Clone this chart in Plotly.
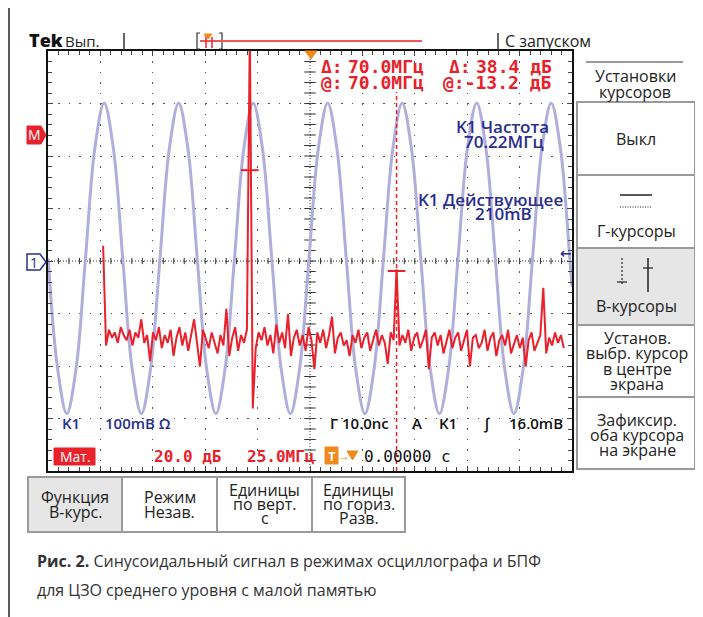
import plotly.graph_objects as go

# ---------------- data ----------------
# CH1 sine wave (time in ns, amplitude in mV) – sampled at 1/8 period
sine_time_ns = [-49.96, -48.18, -46.41, -44.63, -42.85, -41.07, -39.29, -37.52,
                -35.74, -33.96, -32.18, -30.41, -28.63, -26.85, -25.07, -23.30,
                -21.52, -19.74, -17.96, -16.19, -14.41, -12.63, -10.85, -9.07,
                -7.30, -5.52, -3.74, -1.97, -0.19, 1.59, 3.37, 5.14,
                6.92, 8.70, 10.48, 12.25, 14.03, 15.81, 17.59, 19.36,
                21.14, 22.92, 24.70, 26.47, 28.25, 30.03, 31.81, 33.58,
                35.36, 37.14, 38.92, 40.69, 42.47, 44.25, 46.03, 47.80,
                49.58, 50.0]
sine_mv = [5, -204, -291, -204, 5, 214, 301, 214,
           5, -204, -291, -204, 5, 214, 301, 214,
           5, -204, -291, -204, 5, 214, 301, 214,
           5, -204, -291, -204, 5, 214, 301, 214,
           5, -204, -291, -204, 5, 214, 301, 214,
           5, -204, -291, -204, 5, 214, 301, 214,
           5, -204, -291, -204, 5, 214, 301, 214,
           5, -49]

# FFT (math) trace, dB, one value every 1.4 MHz starting at 0 MHz
fft_start_mhz = 0.0
fft_step_mhz = 1.4
fft_db = [-42, -80, -74, -77, -75, -79, -73, -76, -78, -74,
          -80, -75, -77, -70, -79, -76, -86, -75, -78, -73,
          -81, -76, -79, -74, -84, -77, -73, -80, -75, -82,
          -76, -70, -79, -88, -74, -78, -81, -75, -79, -83,
          -76, -80, -66, -84, -77, -73, -82, -76, -79, -74,
          40, -104, -81, -75, -78, -73, -80, -76, -83, -72,
          -79, -75, -81, -68, -84, -77, -74, -80, -76, -82,
          -73, -78, -89, -75, -79, -74, -81, -76, -69, -83,
          -77, -75, -80, -78, -84, -76, -79, -74, -81, -77,
          -75, -82, -78, -74, -80, -76, -79, -87, -75, -78,
          -51, -80, -76, -79, -74, -82, -77, -75, -81, -78,
          -74, -89, -77, -75, -80, -76, -83, -79, -74, -81,
          -77, -75, -82, -78, -74, -88, -77, -76, -81, -79,
          -74, -82, -77, -75, -84, -78, -76, -80, -74, -83,
          -79, -76, -81, -77, -88, -78, -75, -82, -79, -76,
          -58, -83, -77, -80, -75, -79, -76, -81]
fft_freq_mhz = [round(fft_start_mhz + i * fft_step_mhz, 2) for i in range(len(fft_db))]

cursor1_mhz, cursor2_mhz = 70.0, 140.0
cursor1_db, cursor2_db = -13.2, -51.6
ref_level_db = 0.0
trigger_level_mv = 16.0

readout_delta = ["Δ:", "70.0МГц", "Δ:", "38.4 дБ"]
readout_at = ["@:", "70.0МГц", "@:-13.2 дБ"]
menu_title = ["Установки", "курсоров"]
menu_items = [["Выкл"], ["Г-курсоры"], ["В-курсоры"],
              ["Установ.", "выбр. курсор", "в центре", "экрана"],
              ["Зафиксир.", "оба курсора", "на экране"]]
bottom_buttons = [["Функция", "В-курс."], ["Режим", "Незав."],
                  ["Единицы", "по верт.", "с"], ["Единицы", "по гориз.", "Разв."]]
caption_bold = "Рис. 2."
caption_line1 = " Синусоидальный сигнал в режимах осциллографа и БПФ"
caption_line2 = "для ЦЗО среднего уровня с малой памятью"

# ---------------- styling / layout helpers ----------------
OFF = 8                      # page body margin of the html page
W, H = 703 - OFF, 617 - OFF  # figure size
L, R, T, B = 48, 572, 51, 471  # plot area in page pixels
RED = "#e8212b"
NAVY = "#2b2e8c"
LAV = "#b0aedb"
ORANGE = "#f08a1d"
UI = "Open Sans"
MONO = "DejaVu Sans Mono"


def fx(px):
    return (px - L) / (R - L)


def fy(py):
    return (B - py) / (B - T)


ann = []
shapes = []


def txt(x, y, s, size=15, color="#222", family=UI, anchor="center", weight=None):
    f = dict(size=size, color=color, family=family)
    if weight:
        f["weight"] = weight
    ann.append(dict(x=fx(x), y=fy(y), xref="paper", yref="paper", text=s,
                    showarrow=False, xanchor=anchor, yanchor="middle", font=f))


def pline(x0, y0, x1, y1, color="#333", width=1.5, dash=None):
    d = dict(type="line", xref="paper", yref="paper", x0=fx(x0), y0=fy(y0),
             x1=fx(x1), y1=fy(y1), line=dict(color=color, width=width))
    if dash:
        d["line"]["dash"] = dash
    shapes.append(d)


def prect(x0, y0, x1, y1, line="#9a9a9a", fill=None, width=2):
    shapes.append(dict(type="rect", xref="paper", yref="paper", x0=fx(x0), y0=fy(y1),
                       x1=fx(x1), y1=fy(y0), line=dict(color=line, width=width),
                       fillcolor=fill if fill else "rgba(0,0,0,0)", layer="below" if fill else "above"))


def ppath(pts, fill=None, line=None, width=1.5, closed=True):
    p = "M " + " L ".join(f"{fx(a):.5f},{fy(b):.5f}" for a, b in pts) + (" Z" if closed else "")
    shapes.append(dict(type="path", xref="paper", yref="paper", path=p,
                       fillcolor=fill if fill else "rgba(0,0,0,0)",
                       line=dict(color=line if line else (fill or "#000"), width=width)))


# ---------------- figure ----------------
fig = go.Figure()
fig.add_trace(go.Scatter(x=sine_time_ns, y=sine_mv, mode="lines", hoverinfo="skip",
                         line=dict(color=LAV, width=3, shape="spline", smoothing=1.0)))
fig.add_trace(go.Scatter(x=fft_freq_mhz, y=fft_db, xaxis="x2", yaxis="y2", mode="lines",
                         hoverinfo="skip", line=dict(color=RED, width=2)))

axis_common = dict(showticklabels=False, zeroline=False, showline=True, linecolor="#111",
                   linewidth=2, mirror="ticks", ticks="inside", ticklen=5, tickcolor="#444",
                   showgrid=True, gridcolor="#555", gridwidth=1, griddash="1.5px,8.98px")
fig.update_layout(
    width=W, height=H, margin=dict(l=L - OFF, r=W - (R - OFF), t=T - OFF, b=H - (B - OFF)),
    paper_bgcolor="white", plot_bgcolor="white", showlegend=False,
    xaxis=dict(range=[-50, 50], dtick=10, tick0=0,
               minor=dict(dtick=2, ticks="inside", ticklen=4, tickcolor="#444", showgrid=False),
               **axis_common),
    yaxis=dict(range=[-400, 400], dtick=100, tick0=0,
               minor=dict(dtick=20, ticks="inside", ticklen=4, tickcolor="#444", showgrid=False),
               **axis_common),
    xaxis2=dict(range=[-26.3, 223.7], overlaying="x", visible=False),
    yaxis2=dict(range=[-127.8, 32.2], overlaying="y", visible=False),
)

# centre crosshair (denser dots + ticks)
shapes.append(dict(type="line", xref="x", yref="y", x0=-50, x1=50, y0=0, y1=0,
                   line=dict(color="#333", width=1, dash="1px,2px"), layer="below"))
shapes.append(dict(type="line", xref="x", yref="y", x0=0, x1=0, y0=-400, y1=400,
                   line=dict(color="#333", width=1, dash="1px,2px"), layer="below"))
for t in range(-48, 50, 2):
    shapes.append(dict(type="line", xref="x", yref="y", x0=t, x1=t, y0=-6, y1=6,
                       line=dict(color="#333", width=1), layer="below"))
for v in range(-380, 400, 20):
    shapes.append(dict(type="line", xref="x", yref="y", x0=-1.1, x1=1.1, y0=v, y1=v,
                       line=dict(color="#333", width=1), layer="below"))

# cursors
shapes.append(dict(type="line", xref="x2", yref="y2", x0=cursor1_mhz - 4.2, x1=cursor1_mhz + 4.2,
                   y0=cursor1_db, y1=cursor1_db, line=dict(color=RED, width=2)))
shapes.append(dict(type="line", xref="x2", yref="paper", x0=cursor2_mhz, x1=cursor2_mhz,
                   y0=0, y1=fy(92), line=dict(color=RED, width=1.5, dash="4px,3px")))
shapes.append(dict(type="line", xref="x2", yref="y2", x0=cursor2_mhz - 4.2, x1=cursor2_mhz + 4.2,
                   y0=cursor2_db, y1=cursor2_db, line=dict(color=RED, width=2)))

# trigger position marker on top
ppath([(305, 51), (317, 51), (311, 59)], fill=ORANGE, width=1)
# trigger level arrow on right edge
ann.append(dict(x=fx(566), y=trigger_level_mv, xref="paper", yref="y", text="←",
                showarrow=False, xanchor="center", yanchor="middle",
                font=dict(size=14, color=NAVY, family="DejaVu Sans", weight=700)))

# left markers
ppath([(27, 126), (41, 126), (46, 135), (41, 144), (27, 144)], fill=RED, width=1)
txt(34, 135, "M", size=14, color="white", weight=400)
ppath([(27, 254), (40, 254), (46, 262), (40, 270), (27, 270)], fill="white", line=NAVY, width=1.5)
txt(34, 262, "1", size=14, color=NAVY, weight=400)

# page left rule
pline(9, OFF, 9, 617, color="#222", width=1.5)

# top bar
txt(27, 40, "Tek", size=18, color="#111", anchor="left", weight=800)
txt(63, 41, "Вып.", size=15, color="#222", anchor="left")
pline(124, 33, 124, 50, color="#333", width=1.5)
ppath([(200, 33), (197, 33), (197, 49), (200, 49)], line="#333", width=1.2, closed=False)
ppath([(219, 33), (222, 33), (222, 49), (219, 49)], line="#333", width=1.2, closed=False)
pline(200, 41, 422, 41, color="#f0575c", width=2)
pline(206, 35, 206, 48, color=RED, width=1.5)
pline(212, 37, 212, 48, color=RED, width=1.5)
ppath([(204, 34), (212, 34), (208, 39)], fill=ORANGE, width=1)
pline(498, 33, 498, 50, color="#333", width=1.5)
txt(503, 41, "С запуском", size=16, color="#222", anchor="left")

# red readouts
txt(319, 67, readout_delta[0], size=18, color=RED, family=MONO, anchor="left", weight=700)
txt(426, 67, readout_delta[1], size=18, color=RED, family=MONO, anchor="right", weight=700)
txt(447, 67, readout_delta[2], size=18, color=RED, family=MONO, anchor="left", weight=700)
txt(554, 67, readout_delta[3], size=18, color=RED, family=MONO, anchor="right", weight=700)
txt(319, 83, readout_at[0], size=18, color=RED, family=MONO, anchor="left", weight=700)
txt(426, 83, readout_at[1], size=18, color=RED, family=MONO, anchor="right", weight=700)
txt(554, 83, readout_at[2], size=18, color=RED, family=MONO, anchor="right", weight=700)

# blue measurement texts
txt(502, 126, "K1 Частота", size=17, color=NAVY, weight=600)
txt(504, 141, "70.22МГц", size=17, color=NAVY, weight=600)
txt(490, 199, "K1 Действующее", size=17, color=NAVY, weight=600)
txt(503, 214, "210mВ", size=17, color=NAVY, weight=600)

# status line 1
txt(60, 423, "K1", size=15, color=NAVY, anchor="left", weight=600)
txt(103, 423, "100mВ Ω", size=15, color=NAVY, anchor="left", weight=600)
txt(328, 423, "Г 10.0nс", size=15, color="#111", anchor="left", weight=600)
txt(417, 423, "A", size=15, color="#111", weight=600)
txt(448, 423, "K1", size=15, color="#111", weight=600)
txt(487, 423, "∫", size=15, color="#111", weight=600)
txt(507, 423, "16.0mВ", size=15, color="#111", anchor="left", weight=600)

# status line 2
prect(54, 448, 95, 465, line=RED, fill=RED, width=1)
txt(75, 456, "Мат.", size=14, color="white")
txt(152, 456, "20.0 дБ", size=16, color=RED, family=MONO, anchor="left", weight=700)
txt(245, 456, "25.0МГц", size=16, color=RED, family=MONO, anchor="left", weight=700)
prect(325, 447, 338, 464, line=ORANGE, fill=ORANGE, width=1)
txt(331.5, 455.5, "T", size=13, color="white", weight=700)
txt(344, 455, "→", size=12, color=ORANGE, weight=700)
ppath([(347, 451), (358, 451), (352.5, 460)], fill=ORANGE, width=1)
txt(362, 456, "0.00000 с", size=16, color="#111", family=MONO, anchor="left")

# right menu
pline(586, 62, 683, 62, color="#9a9a9a", width=2)
txt(635, 76, menu_title[0], size=16, color="#222")
txt(635, 92, menu_title[1], size=16, color="#222")
boxes = [(102, 175), (175, 248), (248, 325), (325, 397), (397, 469)]
for i, (y0, y1) in enumerate(boxes):
    prect(577, y0, 695, y1, fill="#e6e6e6" if i == 2 else None)
    prect(577, y0, 695, y1)
txt(636, 139, menu_items[0][0], size=16, color="#222")
pline(620, 195, 652, 195, color="#222", width=1.5)
pline(620, 207, 652, 207, color="#222", width=1.2, dash="1px,1.5px")
txt(636, 231, menu_items[1][0], size=16, color="#222")
pline(622, 258, 622, 285, color="#222", width=1.2, dash="2px,2px")
pline(617, 282, 627, 282, color="#222", width=1.2)
pline(648, 258, 648, 292, color="#222", width=1.5)
pline(643, 268, 653, 268, color="#222", width=1.2)
txt(636, 306, menu_items[2][0], size=16, color="#222")
for k, s in enumerate(menu_items[3]):
    txt(637, 338 + 15.3 * k, s, size=16, color="#222")
for k, s in enumerate(menu_items[4]):
    txt(637, 420 + 15 * k, s, size=16, color="#222")

# bottom buttons
btn_x = [(28, 122), (122, 217), (217, 312), (312, 405)]
for i, (x0, x1) in enumerate(btn_x):
    prect(x0, 477, x1, 532, fill="#e6e6e6" if i == 0 else None)
    prect(x0, 477, x1, 532)
    lines = bottom_buttons[i]
    cx = (x0 + x1) / 2
    ys = [497, 512] if len(lines) == 2 else [490, 504, 518]
    for s, y in zip(lines, ys):
        txt(cx, y, s, size=16, color="#222")

# caption
txt(35, 561, f"<b>{caption_bold}</b>{caption_line1}", size=16, color="#333", anchor="left")
txt(35, 590, caption_line2, size=16, color="#333", anchor="left")

fig.update_layout(annotations=ann, shapes=shapes)
fig.write_html("out.html")
